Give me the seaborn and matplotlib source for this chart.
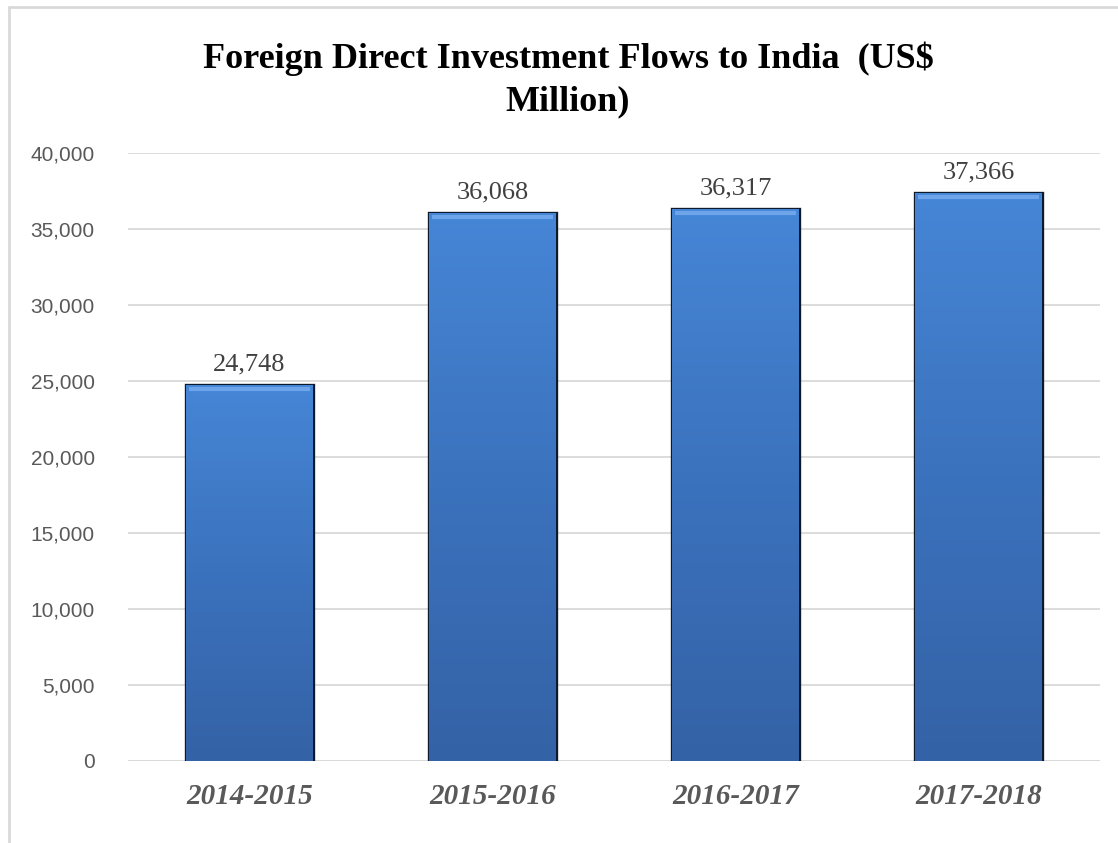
import numpy as np
import pandas as pd
import matplotlib
matplotlib.use("Agg")
import matplotlib.pyplot as plt
import seaborn as sns
from matplotlib.colors import LinearSegmentedColormap
from matplotlib.ticker import FuncFormatter
from matplotlib.lines import Line2D

# Data
years = ["2014-2015", "2015-2016", "2016-2017", "2017-2018"]
fdi_flows = [24748, 36068, 36317, 37366]
y_ticks = [0, 5000, 10000, 15000, 20000, 25000, 30000, 35000, 40000]

df = pd.DataFrame({"year": years, "fdi": fdi_flows})

sns.set_theme(style="white")
plt.rcParams["font.family"] = ["Liberation Sans", "DejaVu Sans"]

fig = plt.figure(figsize=(11.18, 8.43), dpi=100)
ax = fig.add_axes([0.1145, 0.0973, 0.8695, 0.7212])

sns.barplot(data=df, x="year", y="fdi", color="#3f78c4", width=0.52,
            edgecolor="#0d1a2b", linewidth=2.4, ax=ax, zorder=3)

# vertical gradient inside each bar (light top -> darker bottom)
grad_cmap = LinearSegmentedColormap.from_list("bar", ["#3462a6", "#3b72bd", "#4686d6"])
grad = np.linspace(0, 1, 256).reshape(-1, 1)
for patch in ax.patches:
    x0, y0 = patch.get_x(), patch.get_y()
    w, h = patch.get_width(), patch.get_height()
    im = ax.imshow(grad, cmap=grad_cmap, origin="lower", aspect="auto",
                   extent=[x0, x0 + w, y0, y0 + h], zorder=3.5)
    im.set_clip_path(patch)
    # top highlight bevel
    ax.plot([x0 + 0.01, x0 + w - 0.01], [y0 + h - 250, y0 + h - 250],
            color="#6ea4ea", lw=3, zorder=4, solid_capstyle="butt")

ax.set_xlim(-0.5, 3.5)
ax.set_ylim(0, 40000)
ax.set_yticks(y_ticks)
ax.yaxis.set_major_formatter(FuncFormatter(lambda v, p: f"{int(v):,}"))
ax.grid(axis="y", color="#d9d9d9", linewidth=1.3, zorder=0)
ax.set_axisbelow(True)
for s in ax.spines.values():
    s.set_visible(False)
ax.axhline(0, color="#d9d9d9", linewidth=2, zorder=2)

ax.set_xlabel("")
ax.set_ylabel("")
ax.tick_params(axis="y", length=0, pad=24, labelsize=15, labelcolor="#595959")
ax.tick_params(axis="x", length=0, pad=16)
for lab in ax.get_xticklabels():
    lab.set_fontfamily(["Liberation Serif", "DejaVu Serif"])
    lab.set_fontweight("bold")
    lab.set_fontstyle("italic")
    lab.set_fontsize(21)
    lab.set_color("#595959")

# value labels above bars
for i, v in enumerate(fdi_flows):
    ax.text(i, v + 600, f"{v:,}", ha="center", va="bottom",
            fontsize=19, color="#404040",
            family=["Liberation Serif", "DejaVu Serif"])

fig.text(0.508, 0.930, "Foreign Direct Investment Flows to India  (US$",
         ha="center", va="center", fontsize=26, fontweight="bold",
         family=["Liberation Serif", "DejaVu Serif"], color="black")
fig.text(0.508, 0.879, "Million)", ha="center", va="center", fontsize=26,
         fontweight="bold", family=["Liberation Serif", "DejaVu Serif"],
         color="black")

# chart area border
fig.add_artist(Line2D([0.008, 0.008], [0.0, 0.992], color="#d9d9d9", lw=2,
                      transform=fig.transFigure))
fig.add_artist(Line2D([0.008, 1.0], [0.992, 0.992], color="#d9d9d9", lw=2,
                      transform=fig.transFigure))

fig.savefig("out.png", dpi=100)
